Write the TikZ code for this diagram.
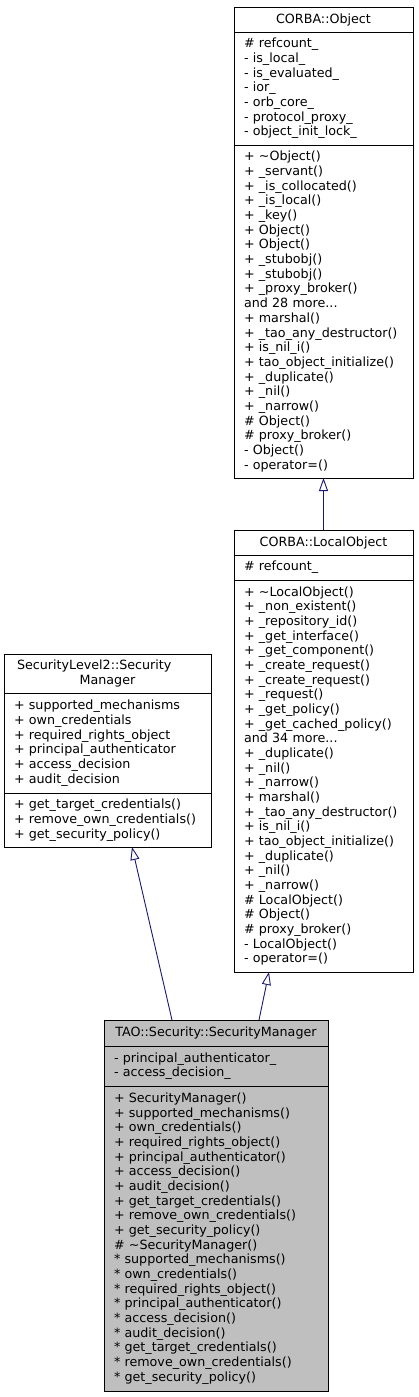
\documentclass[tikz,border=0pt]{standalone}
\usepackage{fontspec}
\setmainfont{DejaVu Sans}
\usetikzlibrary{positioning,arrows.meta}
\definecolor{edgeblue}{RGB}{25,25,112}
\definecolor{curfill}{RGB}{191,191,191}

\begin{document}
\begin{tikzpicture}[x=1pt,y=-1pt,
    >={Triangle[open,length=13pt,width=9pt]},
    part/.style n args={2}{draw,line width=0.9pt,outer sep=0pt,inner xsep=10pt,inner ysep=0pt,
      text width=#1,minimum height=#2,align=left,font=\fontsize{12.7}{14.67}\selectfont},
    head/.style={align=center,anchor=north west},
    inherit/.style={->,draw=edgeblue,line width=0.9pt}]
  \useasboundingbox (0,0) rectangle (419,1397);

  % CORBA::Object
  \node[part={159pt}{25pt},head] (objtitle) at (234,7) {CORBA::Object};
  \node[part={159pt}{113pt},below=0pt of objtitle] (objattr)
    {\# refcount\_\\- is\_local\_\\- is\_evaluated\_\\- ior\_\\- orb\_core\_\\- protocol\_proxy\_\\- object\_init\_lock\_};
  \node[part={159pt}{333pt},below=0pt of objattr] (objmeth)
    {+ \textasciitilde Object()\\+ \_servant()\\+ \_is\_collocated()\\+ \_is\_local()\\+ \_key()\\+ Object()\\+ Object()\\+ \_stubobj()\\+ \_stubobj()\\+ \_proxy\_broker()\\and 28 more...\\+ marshal()\\+ \_tao\_any\_destructor()\\+ is\_nil\_i()\\+ tao\_object\_initialize()\\+ \_duplicate()\\+ \_nil()\\+ \_narrow()\\\# Object()\\\# proxy\_broker()\\- Object()\\- operator=()};

  % CORBA::LocalObject
  \node[part={159pt}{25pt},head] (loctitle) at (234,530) {CORBA::LocalObject};
  \node[part={159pt}{25pt},below=0pt of loctitle] (locattr) {\# refcount\_};
  \node[part={159pt}{392pt},below=0pt of locattr] (locmeth)
    {+ \textasciitilde LocalObject()\\+ \_non\_existent()\\+ \_repository\_id()\\+ \_get\_interface()\\+ \_get\_component()\\+ \_create\_request()\\+ \_create\_request()\\+ \_request()\\+ \_get\_policy()\\+ \_get\_cached\_policy()\\and 34 more...\\+ \_duplicate()\\+ \_nil()\\+ \_narrow()\\+ marshal()\\+ \_tao\_any\_destructor()\\+ is\_nil\_i()\\+ tao\_object\_initialize()\\+ \_duplicate()\\+ \_nil()\\+ \_narrow()\\\# LocalObject()\\\# Object()\\\# proxy\_broker()\\- LocalObject()\\- operator=()};

  % SecurityLevel2::SecurityManager
  \node[part={187pt}{39pt},head] (sl2title) at (4,654) {\makebox[181pt][l]{SecurityLevel2::Security}\\Manager};
  \node[part={187pt}{100pt},below=0pt of sl2title] (sl2attr)
    {+ supported\_mechanisms\\+ own\_credentials\\+ required\_rights\_object\\+ principal\_authenticator\\+ access\_decision\\+ audit\_decision};
  \node[part={187pt}{54pt},below=0pt of sl2attr] (sl2meth)
    {+ get\_target\_credentials()\\+ remove\_own\_credentials()\\+ get\_security\_policy()};

  % TAO::Security::SecurityManager
  \node[part={204pt}{26pt},head,fill=curfill] (taotitle) at (104,1020) {TAO::Security::SecurityManager};
  \node[part={204pt}{40pt},fill=curfill,below=0pt of taotitle] (taoattr)
    {- principal\_authenticator\_\\- access\_decision\_};
  \node[part={204pt}{305pt},fill=curfill,below=0pt of taoattr] (taometh)
    {+ SecurityManager()\\+ supported\_mechanisms()\\+ own\_credentials()\\+ required\_rights\_object()\\+ principal\_authenticator()\\+ access\_decision()\\+ audit\_decision()\\+ get\_target\_credentials()\\+ remove\_own\_credentials()\\+ get\_security\_policy()\\\# \textasciitilde SecurityManager()\\{*} supported\_mechanisms()\\{*} own\_credentials()\\{*} required\_rights\_object()\\{*} principal\_authenticator()\\{*} access\_decision()\\{*} audit\_decision()\\{*} get\_target\_credentials()\\{*} remove\_own\_credentials()\\{*} get\_security\_policy()};

  \draw[inherit] (loctitle.north) -- (objmeth.south);
  \draw[inherit] ([xshift=-44pt]taotitle.north) -- ([xshift=24.5pt]sl2meth.south);
  \draw[inherit] ([xshift=43pt]taotitle.north) -- ([xshift=-54.5pt]locmeth.south);
\end{tikzpicture}
\end{document}
